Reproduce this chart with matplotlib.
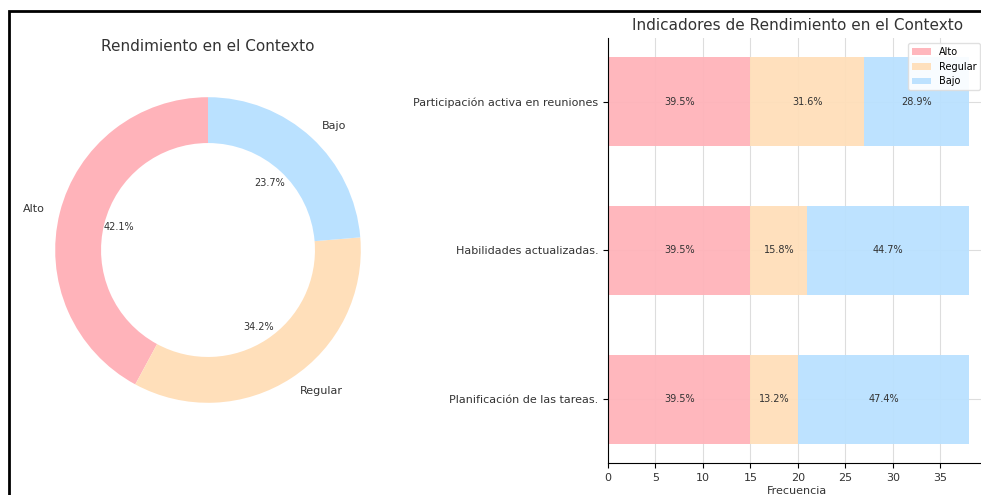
import matplotlib.pyplot as plt
import numpy as np
from matplotlib.patches import Rectangle

# === Data ===
niveles = ["Alto", "Regular", "Bajo"]
colores = ["#FFB3BA", "#FFDFBA", "#BAE1FF"]
total_nivel = [16, 13, 9]

indicadores = ["Planificación de las tareas.", "Habilidades actualizadas.",
               "Participación activa en reuniones"]
alto = [15, 15, 15]
regular = [5, 6, 12]
bajo = [18, 17, 11]

# === Figure ===
fig = plt.figure(figsize=(9.81, 4.95), dpi=100)
W, H = 981, 495

# --- Donut ---
ax1 = fig.add_axes([17 / W, (H - 441) / H, 382 / W, 382 / H])
wedges, texts, autotexts = ax1.pie(total_nivel, labels=niveles, colors=colores,
                                   autopct='%1.1f%%', startangle=90,
                                   wedgeprops=dict(width=0.3),
                                   textprops=dict(fontsize=8, color='#333333'))
for t in autotexts:
    t.set_fontsize(7)
ax1.set_title("Rendimiento en el Contexto", fontsize=11, color='#333333')

# --- Stacked bars ---
ax2 = fig.add_axes([608 / W, (H - 463) / H, 379 / W, 425 / H])
ax2.grid(True, color='#dddddd', linewidth=0.8)
ax2.set_axisbelow(True)
y = np.arange(len(indicadores))
series = [alto, regular, bajo]
left = np.zeros(len(indicadores))
for nombre, vals, c in zip(niveles, series, colores):
    vals = np.array(vals)
    ax2.barh(y, vals, left=left, height=0.6, color=c, alpha=0.95, label=nombre)
    totals = np.array(alto) + np.array(regular) + np.array(bajo)
    for yi, l, v, t in zip(y, left, vals, totals):
        ax2.text(l + v / 2, yi, f"{v / t * 100:.1f}%", ha='center', va='center',
                 fontsize=7, color='#333333')
    left = left + vals

ax2.set_yticks(y)
ax2.set_yticklabels(indicadores, fontsize=8, color='#333333')
ax2.set_xticks(range(0, 40, 5))
ax2.tick_params(axis='x', labelsize=8, labelcolor='#333333')
ax2.set_xlabel("Frecuencia", fontsize=8, color='#333333', labelpad=2)
ax2.set_title("Indicadores de Rendimiento en el Contexto", fontsize=11, color='#333333')
ax2.spines['top'].set_visible(False)
ax2.spines['right'].set_visible(False)
ax2.legend(loc='upper right', bbox_to_anchor=(0.995, 1.0), fontsize=7,
           frameon=True, framealpha=0.9, edgecolor='#dddddd')

# outer frame
fig.add_artist(Rectangle((9 / W, -0.1), 1.2, (H - 11) / H + 0.1,
                         transform=fig.transFigure, fill=False, lw=2, ec='black'))

plt.savefig("out.png", dpi=100)
